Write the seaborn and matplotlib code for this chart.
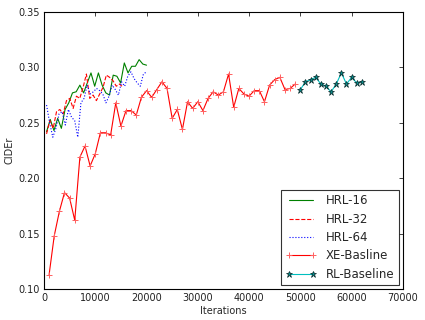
import numpy as np
import pandas as pd
import matplotlib
matplotlib.use('Agg')
import matplotlib.pyplot as plt
import seaborn as sns

# HRL curves (logged roughly every 650 iterations)
hrl16_vals = [0.242, 0.253, 0.243, 0.254, 0.245, 0.262, 0.268, 0.277, 0.278, 0.284,
              0.277, 0.286, 0.295, 0.283, 0.295, 0.284, 0.277, 0.275, 0.293, 0.292,
              0.286, 0.304, 0.295, 0.301, 0.301, 0.307, 0.303, 0.302]
hrl16_iters = np.linspace(500, 20000, len(hrl16_vals))

hrl32_vals = [0.240, 0.252, 0.245, 0.260, 0.262, 0.258, 0.270, 0.272, 0.263, 0.274,
              0.272, 0.282, 0.294, 0.272, 0.275, 0.270, 0.276, 0.282, 0.293, 0.291,
              0.288, 0.283, 0.285, 0.282]
hrl32_iters = np.linspace(500, 15400, len(hrl32_vals))

hrl64_vals = [0.266, 0.250, 0.237, 0.245, 0.258, 0.260, 0.248, 0.262, 0.255, 0.252,
              0.237, 0.268, 0.272, 0.284, 0.276, 0.278, 0.281, 0.279, 0.276, 0.268,
              0.274, 0.284, 0.280, 0.275, 0.287, 0.283, 0.292, 0.296, 0.290, 0.286,
              0.283, 0.294, 0.296]
hrl64_iters = np.linspace(500, 20000, len(hrl64_vals))

xe_iters = np.arange(1000, 50000, 1000)
xe_vals = [0.113, 0.148, 0.170, 0.187, 0.182, 0.162, 0.219, 0.229, 0.211, 0.222,
           0.241, 0.241, 0.239, 0.268, 0.247, 0.261, 0.261, 0.257, 0.273, 0.279,
           0.273, 0.280, 0.287, 0.281, 0.254, 0.262, 0.244, 0.269, 0.263, 0.269,
           0.261, 0.272, 0.278, 0.275, 0.278, 0.294, 0.264, 0.281, 0.276, 0.274,
           0.279, 0.279, 0.269, 0.284, 0.289, 0.291, 0.280, 0.281, 0.285]

rl_iters = np.arange(50000, 63000, 1000)
rl_vals = [0.280, 0.287, 0.289, 0.291, 0.285, 0.283, 0.278, 0.285, 0.295, 0.285,
           0.291, 0.286, 0.287]

x_ticks = [0, 10000, 20000, 30000, 40000, 50000, 60000, 70000]
y_ticks = [0.10, 0.15, 0.20, 0.25, 0.30, 0.35]

sns.set_theme(style='white')
plt.rcParams['font.family'] = ['DejaVu Sans']
plt.rcParams['xtick.direction'] = 'in'
plt.rcParams['ytick.direction'] = 'in'

fig = plt.figure(figsize=(4.25, 3.2), dpi=100)
ax = fig.add_axes([0.1035, 0.097, 0.8445, 0.8655])

sns.lineplot(x=hrl16_iters, y=hrl16_vals, color='#008000', linewidth=0.8,
             label='HRL-16', ax=ax)
sns.lineplot(x=hrl32_iters, y=hrl32_vals, color='#ff0000', linewidth=0.8,
             linestyle='--', label='HRL-32', ax=ax)
sns.lineplot(x=hrl64_iters, y=hrl64_vals, color='#0000ff', linewidth=0.8,
             linestyle=':', label='HRL-64', ax=ax)
sns.lineplot(x=xe_iters, y=xe_vals, color='#ff0000', linewidth=0.8, marker='+',
             markersize=5, markeredgecolor='#ff6060', markeredgewidth=0.7,
             label='XE-Basline', ax=ax)
sns.lineplot(x=rl_iters, y=rl_vals, color='#00bfbf', linewidth=0.8, marker='*',
             markersize=5, markerfacecolor='#008b8b', markeredgecolor='#0a2a2a',
             markeredgewidth=0.5, label='RL-Baseline', ax=ax)

ax.set_xlim(0, 70000)
ax.set_ylim(0.10, 0.35)
ax.set_xticks(x_ticks)
ax.set_yticks(y_ticks)
ax.set_yticklabels([f'{v:.2f}' for v in y_ticks])
ax.tick_params(axis='both', labelsize=7, top=True, right=True, length=3,
               width=0.6, colors='#222222', pad=3)
for s in ax.spines.values():
    s.set_color('black')
    s.set_linewidth(0.8)

ax.set_xlabel('Iterations', fontsize=7, labelpad=2)
ax.set_ylabel('CIDEr', fontsize=7, labelpad=3)

leg = ax.legend(loc='lower right', fontsize=8.5, frameon=True, fancybox=False,
                edgecolor='black', borderpad=0.4, handlelength=2.6,
                labelspacing=0.45, borderaxespad=0.3, numpoints=2)
leg.get_frame().set_linewidth(0.8)

fig.savefig('out.png', dpi=100)
